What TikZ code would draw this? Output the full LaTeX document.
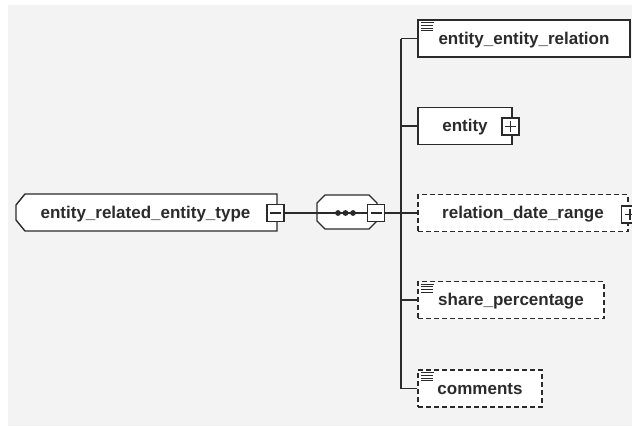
\documentclass[tikz,border=0pt]{standalone}
\usepackage{fontspec}
\setmainfont{Liberation Sans}
\usetikzlibrary{calc}
\definecolor{bgray}{HTML}{F3F3F3}
\definecolor{lcol}{HTML}{2A2A2A}
\definecolor{tcol}{HTML}{2B2B2B}
\begin{document}
\begin{tikzpicture}[x=1pt,y=-1pt,
  line width=1.4pt, lcol,
  lbl/.style={font=\fontsize{17}{20}\selectfont\bfseries, text=tcol, inner sep=0pt, minimum height=37pt, text height=12.5pt, text depth=1.5pt},
  elem/.style={lbl, draw=lcol, fill=white},
  optelem/.style={elem, dash pattern=on 5pt off 3pt},
  tog/.style={draw=lcol, fill=white, minimum width=17pt, minimum height=17pt, inner sep=0pt, line width=1.2pt, solid},
  conn/.style={draw=lcol, line width=1.4pt, solid}]
\useasboundingbox (0,0) rectangle (632,426);
\fill[white] (0,0) rectangle (632,426);
\fill[bgray] (8,5) rectangle (632,426);
\clip (0,0) rectangle (632,426);

% root element (chamfered left side)
\draw[lcol, fill=white] (25,194) -- (277,194) -- (277,231) -- (25,231) -- (16,220) -- (16,205) -- cycle;
\node[lbl, minimum width=261pt] (root) at (145.5,212.5) {entity\_related\_entity\_type};
\node[tog] (rootm) at (275.5,213) {};
\draw[line width=1.2pt] ($(rootm.center)+(-5.5,0)$) -- ($(rootm.center)+(5.5,0)$);

% sequence compositor
\draw[lcol, fill=white] (325,195) -- (369,195) -- (377,203) -- (377,221) -- (369,229) -- (325,229) -- (317,221) -- (317,203) -- cycle;
\node[minimum width=60pt, minimum height=34pt, inner sep=0pt] (seq) at (347,212) {};
\node[tog] (seqm) at (376,213) {};
\draw[line width=1.2pt] ($(seqm.center)+(-5.5,0)$) -- ($(seqm.center)+(5.5,0)$);
\draw[conn] (seq.west |- seqm.west) -- (seqm.west);
\foreach \dx in {338,345.5,353} \fill[lcol] (\dx,213) circle (2.9pt);
\draw[conn] (rootm.east) -- (seq.west |- rootm.east);

% children
\node[elem, minimum width=212pt] (c1) at (524,38.5) {entity\_entity\_relation};
\node[elem, minimum width=94pt] (c2) at (465,126) {entity};
\node[optelem, minimum width=210pt] (c3) at (523,213) {relation\_date\_range};
\node[optelem, minimum width=186pt] (c4) at (511,300) {share\_percentage};
\node[optelem, minimum width=124pt] (c5) at (480,388.5) {comments};

% plus toggles
\node[tog] (c2p) at (510.5,126.5) {};
\draw[line width=1.2pt] ($(c2p.center)+(-5.5,0)$) -- ($(c2p.center)+(5.5,0)$) ($(c2p.center)+(0,-5.5)$) -- ($(c2p.center)+(0,5.5)$);
\node[tog] (c3p) at (630,214.5) {};
\draw[line width=1.2pt] ($(c3p.center)+(-5.5,0)$) -- ($(c3p.center)+(5.5,0)$) ($(c3p.center)+(0,-5.5)$) -- ($(c3p.center)+(0,5.5)$);

% documentation icons
\foreach \n in {c1,c4,c5} {
  \foreach \dy/\len in {3.3/13,6/12,8.7/12,11.3/12}
    \draw[line width=0.9pt, solid] ($(\n.north west)+(3.5,\dy)$) -- ++(\len,0);
}

% connectors
\coordinate (bus) at (401,213);
\draw[conn] (seqm.east) -- (bus);
\draw[conn] (bus |- c1.west) -- (bus |- c5.west);
\foreach \n in {c1,c2,c3,c4,c5} \draw[conn] (bus |- \n.west) -- (\n.west);
\end{tikzpicture}
\end{document}
